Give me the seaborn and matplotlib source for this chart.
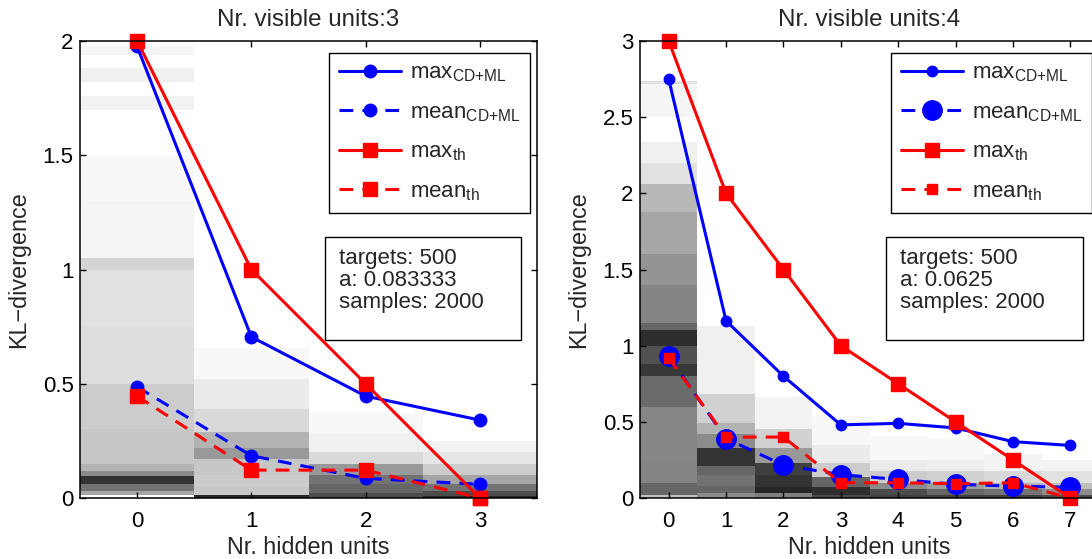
import numpy as np
import pandas as pd
import matplotlib
matplotlib.use("Agg")
import matplotlib.pyplot as plt
from matplotlib.patches import Rectangle
from matplotlib.ticker import FormatStrFormatter, MultipleLocator
import seaborn as sns

# data
hidden3 = [0, 1, 2, 3]
max_cd3 = [1.976, 0.705, 0.446, 0.341]
mean_cd3 = [0.486, 0.185, 0.086, 0.060]
max_th3 = [2.0, 1.0, 0.5, 0.0]
mean_th3 = [0.446, 0.122, 0.122, 0.0]

hidden4 = [0, 1, 2, 3, 4, 5, 6, 7]
max_cd4 = [2.75, 1.163, 0.80, 0.48, 0.49, 0.46, 0.37, 0.345]
mean_cd4 = [0.93, 0.39, 0.216, 0.153, 0.122, 0.09, 0.078, 0.07]
max_th4 = [3.0, 2.0, 1.5, 1.0, 0.75, 0.5, 0.25, 0.0]
mean_th4 = [0.92, 0.40, 0.40, 0.10, 0.10, 0.094, 0.10, 0.0]

# grey background: per column band edges (KL values) and darkness (0 white .. 1 black)
bg_edges3 = [
    [0, 0.015, 0.03, 0.06, 0.095, 0.12, 0.15, 0.3, 0.5, 0.75, 1.0, 1.05, 1.3, 1.5, 1.7, 1.76, 1.82, 1.88, 1.94, 1.98],
    [0, 0.012, 0.05, 0.1, 0.17, 0.22, 0.29, 0.39, 0.52, 0.655],
    [0, 0.02, 0.06, 0.1, 0.15, 0.2, 0.28, 0.37],
    [0, 0.01, 0.03, 0.06, 0.1, 0.15, 0.2, 0.25],
]
bg_dark3 = [
    [0.0, 0.35, 0.55, 0.8, 0.45, 0.3, 0.22, 0.2, 0.13, 0.12, 0.17, 0.04, 0.03, 0.0, 0.05, 0.0, 0.06, 0.0, 0.04],
    [0.85, 0.22, 0.2, 0.22, 0.4, 0.3, 0.15, 0.08, 0.03],
    [0.7, 0.6, 0.55, 0.4, 0.15, 0.06, 0.03],
    [0.85, 0.7, 0.55, 0.35, 0.2, 0.1, 0.05],
]
bg_edges4 = [
    [0, 0.02, 0.1, 0.25, 0.6, 0.8, 0.88, 1.0, 1.1, 1.15, 1.4, 1.6, 1.88, 2.06, 2.2, 2.34, 2.5, 2.72, 2.74],
    [0, 0.03, 0.08, 0.15, 0.21, 0.33, 0.42, 0.49, 0.68, 1.13],
    [0, 0.03, 0.07, 0.15, 0.23, 0.33, 0.45, 0.66],
    [0, 0.02, 0.07, 0.14, 0.23, 0.35, 0.54],
    [0, 0.02, 0.06, 0.1, 0.18, 0.25, 0.41],
    [0, 0.02, 0.06, 0.1, 0.18, 0.25, 0.39],
    [0, 0.02, 0.06, 0.1, 0.18, 0.29],
    [0, 0.02, 0.06, 0.1, 0.18, 0.25],
]
bg_dark4 = [
    [0.25, 0.6, 0.48, 0.47, 0.58, 0.78, 0.68, 0.82, 0.6, 0.48, 0.42, 0.35, 0.28, 0.12, 0.06, 0.0, 0.04, 0.12],
    [0.45, 0.6, 0.55, 0.6, 0.8, 0.45, 0.3, 0.18, 0.06],
    [0.5, 0.85, 0.8, 0.75, 0.4, 0.18, 0.05],
    [0.7, 0.82, 0.6, 0.2, 0.08, 0.03],
    [0.75, 0.7, 0.45, 0.2, 0.08, 0.03],
    [0.75, 0.6, 0.38, 0.18, 0.07, 0.03],
    [0.75, 0.55, 0.3, 0.15, 0.05],
    [0.7, 0.45, 0.25, 0.12, 0.05],
]

titles = ["Nr. visible units:3", "Nr. visible units:4"]
info = ["targets: 500\na: 0.083333\nsamples: 2000",
        "targets: 500\na: 0.0625\nsamples: 2000"]
labels = [r"max$_{\mathrm{CD{+}ML}}$", r"mean$_{\mathrm{CD{+}ML}}$",
          r"max$_{\mathrm{th}}$", r"mean$_{\mathrm{th}}$"]

FS = 16

sns.set_theme(style="ticks")
plt.rcParams["font.family"] = ["Liberation Sans", "DejaVu Sans"]
plt.rcParams["mathtext.fontset"] = "custom"
plt.rcParams["mathtext.rm"] = "Liberation Sans"
plt.rcParams["mathtext.it"] = "Liberation Sans:italic"
plt.rcParams["lines.dashed_pattern"] = [4.5, 3.0]

fig = plt.figure(figsize=(10.92, 5.59), dpi=100)
ax1 = fig.add_axes([80 / 1092, 61 / 559, 457 / 1092, 457 / 559])
ax2 = fig.add_axes([640 / 1092, 61 / 559, 459 / 1092, 457 / 559])


def draw_panel(ax, hidden, series, edges, dark, msizes, ymax, title, txt):
    # background histograms
    for c, (e, d) in enumerate(zip(edges, dark)):
        ax.pcolormesh([c - 0.5, c + 0.5], e, np.array(d)[:, None], cmap="gray_r",
                      vmin=0, vmax=1, shading="flat", zorder=0)

    styles = [("blue", "-", "o"), ("blue", "--", "o"), ("red", "-", "s"), ("red", "--", "s")]
    for (col, ls, mk), vals, lab, ms in zip(styles, series, labels, msizes):
        df = pd.DataFrame({"hidden": hidden, "kl": vals})
        sns.lineplot(data=df, x="hidden", y="kl", ax=ax, color=col, linestyle=ls,
                     marker=mk, markersize=ms, markeredgecolor=col, markerfacecolor=col,
                     markeredgewidth=1, linewidth=2.2, label=lab, clip_on=False, zorder=3)

    ax.set_xlim(-0.5, len(hidden) - 0.5)
    ax.set_ylim(0, ymax)
    ax.xaxis.set_major_locator(MultipleLocator(1))
    ax.yaxis.set_major_locator(MultipleLocator(0.5))
    ax.yaxis.set_major_formatter(FormatStrFormatter("%g"))
    ax.tick_params(direction="in", length=4, width=1, top=True, right=True,
                   labelsize=FS, colors="black")
    ax.tick_params(axis="x", pad=9.5)
    ax.tick_params(axis="y", pad=4.5)
    for sp in ax.spines.values():
        sp.set_linewidth(1.1)
        sp.set_color("black")
        sp.set_zorder(5)

    ax.set_title(title, fontsize=17.4, pad=11)
    ax.set_xlabel("Nr. hidden units", fontsize=16.8, labelpad=3)
    ax.set_ylabel("KL\u2212divergence", fontsize=16.8, labelpad=9)

    leg = ax.legend(loc="upper right", bbox_to_anchor=(0.985, 0.974), borderaxespad=0,
                    fontsize=FS, frameon=True, fancybox=False, edgecolor="black",
                    handlelength=2.8, handletextpad=0.4, labelspacing=0.8,
                    borderpad=0.45, framealpha=1)
    leg.get_frame().set_linewidth(1)
    leg.set_zorder(6)

    ax.add_patch(Rectangle((0.537, 0.345), 0.428, 0.227, transform=ax.transAxes,
                           facecolor="white", edgecolor="black", lw=1, zorder=6))
    ax.text(0.566, 0.548, txt, transform=ax.transAxes, fontsize=FS, va="top",
            ha="left", linespacing=1.07, zorder=7)


draw_panel(ax1, hidden3, [max_cd3, mean_cd3, max_th3, mean_th3], bg_edges3, bg_dark3,
           [9, 9, 10, 10], 2, titles[0], info[0])
draw_panel(ax2, hidden4, [max_cd4, mean_cd4, max_th4, mean_th4], bg_edges4, bg_dark4,
           [7.5, 14, 10, 7], 3, titles[1], info[1])

fig.savefig("out.png", dpi=100)
